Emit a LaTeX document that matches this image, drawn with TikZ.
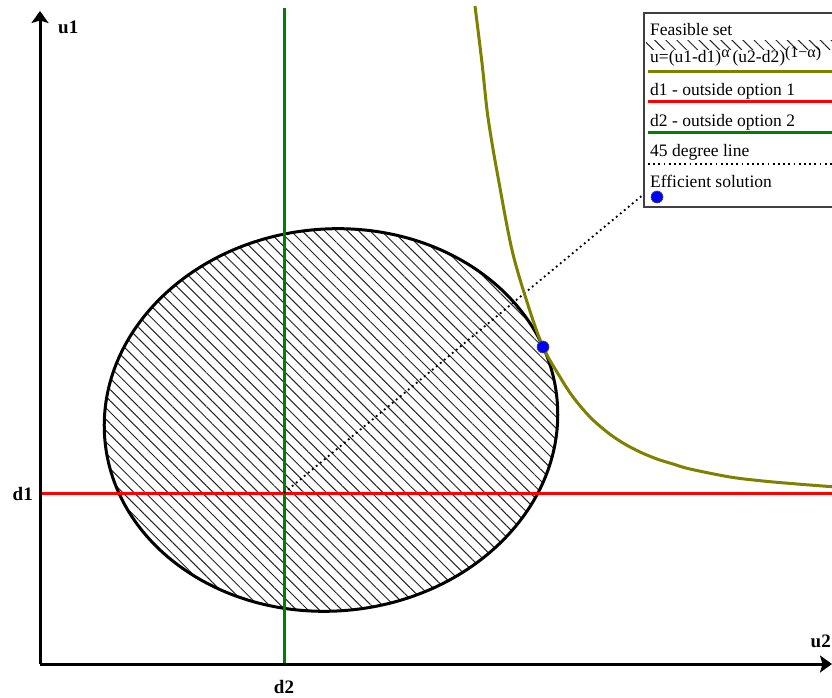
\documentclass[tikz,border=0pt]{standalone}
\usepackage{fontspec}
\setmainfont{Liberation Serif}
\usetikzlibrary{patterns.meta,arrows.meta}
\definecolor{olivec}{RGB}{128,128,0}
\definecolor{greenc}{RGB}{0,128,0}
\begin{document}
\begin{tikzpicture}[x=1pt,y=-1pt,
  axis/.style={line width=3pt,-{Stealth[length=12pt,width=17pt,inset=2.5pt]}},
  axlabel/.style={font=\fontsize{19}{21}\selectfont\bfseries, inner sep=0pt},
  legtext/.style={font=\fontsize{17.5}{19}\selectfont, anchor=base west, inner sep=0pt},
  thick3/.style={line width=3pt},
  dotline/.style={line width=1.8pt, dash pattern=on 1.8pt off 3.4pt},
  soldot/.style={fill=blue, draw=black!70, line width=0.6pt},
  hatch/.style={pattern={Lines[angle=-45,distance=8pt,line width=1pt]}, pattern color=black!85}
]
\useasboundingbox (0,0) rectangle (832,698);
\fill[white] (0,0) rectangle (832,698);
\begin{scope}
\clip (0,0) rectangle (832,698);
% key points
\coordinate (O) at (40,664);
\coordinate (ytop) at (40,11);
\coordinate (xend) at (832,664);
\coordinate (c) at (331,420);
\coordinate (dpt) at (284,493);
\coordinate (sol) at (543,347);
\coordinate (lgc) at (644,194);
\coordinate (redL) at (40,493);
\coordinate (redR) at (834,493);
\coordinate (grT) at (284,8);
\coordinate (grB) at (284,664);
% feasible set
\fill[hatch, rotate around={5:(c)}] (c) ellipse [x radius=227, y radius=191];
\draw[thick3, black, rotate around={5:(c)}] (c) ellipse [x radius=227, y radius=191];
% outside options
\draw[thick3, red] (redL) -- (redR);
\draw[thick3, greenc] (grT) -- (grB);
% 45 degree line
\draw[dotline] (dpt) -- (lgc);
% indifference curve
\draw[thick3, olivec] plot[smooth, tension=0.55] coordinates {(475,6) (482,63) (487,110) (492,143) (498,177) (512,250) (528,305) (543,347) (560,377) (573,397) (590,417) (607,432) (623,443) (640,452) (657,459) (673,464) (690,469) (730,477) (763,481) (797,484) (836,487)};
% efficient solution
\fill[soldot] (sol) circle (6);
% axes
\draw[axis] (O) -- (ytop);
\draw[axis] (O) -- (xend);
\node[axlabel, anchor=base west] (u1) at (58,34) {u1};
\node[axlabel, anchor=base east] (u2) at (831,647) {u2};
\node[axlabel, anchor=base east] (d1) at (33,500) {d1};
\node[axlabel, anchor=base] (d2) at (284,693) {d2};
% legend
\draw[fill=white, draw=black!75, line width=1.4pt] (644,13) rectangle (845,207);
\node[legtext] (l1) at (650,36) {Feasible set};
\fill[pattern={Lines[angle=-45,distance=7.8pt,line width=1pt]}, pattern color=black!85] (646,41) rectangle (834,50);
\node[legtext] (l2) at (650,63) {u=(u1-d1)\raisebox{5pt}{\fontsize{16}{16}\selectfont α}\,(u2-d2)\raisebox{5pt}{\fontsize{16}{16}\selectfont (1−α)}};
\draw[thick3, olivec] (648,72) -- (834,72);
\node[legtext] (l3) at (650,96) {d1 - outside option 1};
\draw[thick3, red] (648,102) -- (834,102);
\node[legtext] (l4) at (650,127) {d2 - outside option 2};
\draw[thick3, greenc] (648,133) -- (834,133);
\node[legtext] (l5) at (650,157) {45 degree line};
\draw[dotline] (648,164) -- (834,164);
\node[legtext] (l6) at (650,187) {Efficient solution};
\fill[soldot] (657,197) circle (6);
\end{scope}
\end{tikzpicture}
\end{document}
